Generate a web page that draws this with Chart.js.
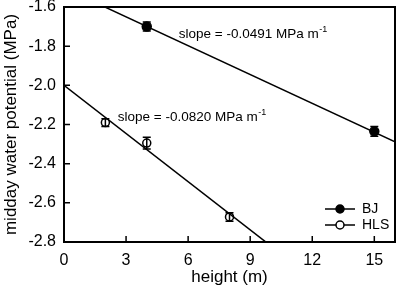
<!DOCTYPE html>
<html>
<head>
<meta charset="utf-8">
<script src="https://cdn.jsdelivr.net/npm/chart.js@4.4.0/dist/chart.umd.min.js"></script>
<style>
  body { margin: 0; background: #fff; }
  #wrap { width: 397px; height: 290px; }
</style>
</head>
<body>
<div id="wrap"><canvas id="chart" width="397" height="290"></canvas></div>
<script>
// heights (m) and midday water potential (MPa)
const bjHeight = [4, 15];
const bjPsi = [-1.70, -2.235];
const bjErr = [0.023, 0.025];
const hlsHeight = [2, 4, 8];
const hlsPsi = [-2.19, -2.295, -2.672];
const hlsErr = [0.02, 0.03, 0.022];

// regression lines
const bjSlope = -0.0491;
const bjIntercept = -1.503;
const hlsSlope = -0.0820;
const hlsIntercept = -2.0;

const xTicks = [0, 3, 6, 9, 12, 15];
const yTicks = [-1.6, -1.8, -2.0, -2.2, -2.4, -2.6, -2.8];
const xMin = 0, xMax = 16, yMin = -2.8, yMax = -1.6;

const FONT = 'Arial, "Liberation Sans", sans-serif';

function fitLine(slope, icpt) {
  return [xMin, xMax].map(x => ({ x, y: icpt + slope * x }));
}

const toPts = (xs, ys) => xs.map((x, i) => ({ x, y: ys[i] }));

// error bars + box + inner ticks + annotations + legend
const decorPlugin = {
  id: 'decor',
  afterDatasetsDraw(chart) {
    const { ctx, scales: { x, y } } = chart;
    ctx.save();
    ctx.strokeStyle = '#000';
    ctx.lineWidth = 1.5;
    const bars = (xs, ys, es) => xs.forEach((v, i) => {
      const px = x.getPixelForValue(v);
      const top = y.getPixelForValue(ys[i] + es[i]);
      const bot = y.getPixelForValue(ys[i] - es[i]);
      ctx.beginPath();
      ctx.moveTo(px, top); ctx.lineTo(px, bot);
      ctx.moveTo(px - 4, top); ctx.lineTo(px + 4, top);
      ctx.moveTo(px - 4, bot); ctx.lineTo(px + 4, bot);
      ctx.stroke();
    });
    bars(bjHeight, bjPsi, bjErr);
    bars(hlsHeight, hlsPsi, hlsErr);
    ctx.restore();
  },
  afterDraw(chart) {
    const { ctx, chartArea: a, scales: { x, y } } = chart;
    ctx.save();
    ctx.strokeStyle = '#000';
    ctx.lineWidth = 2;
    ctx.strokeRect(a.left, a.top, a.right - a.left, a.bottom - a.top);
    ctx.lineWidth = 1.5;
    ctx.beginPath();
    xTicks.forEach(v => {
      if (v === xMin) return;
      const px = x.getPixelForValue(v);
      ctx.moveTo(px, a.bottom); ctx.lineTo(px, a.bottom - 6);
    });
    yTicks.forEach(v => {
      if (v === yMin || v === yMax) return;
      const py = y.getPixelForValue(v);
      ctx.moveTo(a.left, py); ctx.lineTo(a.left + 6, py);
    });
    ctx.stroke();

    // slope annotations
    ctx.fillStyle = '#000';
    ctx.textBaseline = 'middle';
    const note = (txt, dx, dy) => {
      const px = x.getPixelForValue(dx);
      const py = y.getPixelForValue(dy);
      ctx.font = '13.5px ' + FONT;
      ctx.textAlign = 'left';
      ctx.fillText(txt, px, py);
      const w = ctx.measureText(txt).width;
      ctx.font = '9px ' + FONT;
      ctx.fillText('-1', px + w + 0.5, py - 5);
    };
    note('slope = ' + bjSlope.toFixed(4) + ' MPa m', 5.55, -1.74);
    note('slope = ' + hlsSlope.toFixed(4) + ' MPa m', 2.6, -2.165);

    // legend
    const legend = [
      { label: 'BJ', fill: '#000' },
      { label: 'HLS', fill: '#fff' }
    ];
    legend.forEach((item, i) => {
      const ly = 209 + i * 16;
      ctx.lineWidth = 1.5;
      ctx.beginPath();
      ctx.moveTo(325, ly); ctx.lineTo(355, ly);
      ctx.stroke();
      ctx.beginPath();
      ctx.arc(340, ly, 4, 0, Math.PI * 2);
      ctx.fillStyle = item.fill;
      ctx.fill();
      ctx.stroke();
      ctx.fillStyle = '#000';
      ctx.font = '14px ' + FONT;
      ctx.textAlign = 'left';
      ctx.fillText(item.label, 362, ly + 0.5);
    });
    ctx.restore();
  }
};

new Chart(document.getElementById('chart').getContext('2d'), {
  type: 'scatter',
  data: {
    datasets: [
      {
        type: 'line',
        label: 'BJ fit',
        data: fitLine(bjSlope, bjIntercept),
        borderColor: '#000',
        borderWidth: 1.5,
        pointRadius: 0,
        fill: false
      },
      {
        type: 'line',
        label: 'HLS fit',
        data: fitLine(hlsSlope, hlsIntercept),
        borderColor: '#000',
        borderWidth: 1.5,
        pointRadius: 0,
        fill: false
      },
      {
        label: 'BJ',
        data: toPts(bjHeight, bjPsi),
        backgroundColor: '#000',
        borderColor: '#000',
        borderWidth: 1.5,
        pointRadius: 4.5
      },
      {
        label: 'HLS',
        data: toPts(hlsHeight, hlsPsi),
        backgroundColor: '#fff',
        borderColor: '#000',
        borderWidth: 1.5,
        pointRadius: 4
      }
    ]
  },
  options: {
    responsive: false,
    animation: false,
    layout: { autoPadding: false, padding: { top: 7, right: 2, left: 0, bottom: 0 } },
    plugins: { legend: { display: false }, tooltip: { enabled: false } },
    scales: {
      x: {
        type: 'linear',
        min: xMin,
        max: xMax,
        grid: { display: false, drawTicks: false },
        border: { display: false },
        afterBuildTicks: s => { s.ticks = xTicks.map(v => ({ value: v })); },
        afterFit: s => { s.height = 48; s.paddingLeft = 0; s.paddingRight = 0; },
        ticks: {
          color: '#000',
          font: { family: FONT, size: 16 },
          padding: 9,
          maxRotation: 0,
          callback: v => String(v)
        },
        title: {
          display: true,
          text: 'height (m)',
          color: '#000',
          font: { family: FONT, size: 17 },
          padding: { top: 0, bottom: 2 }
        }
      },
      y: {
        type: 'linear',
        min: yMin,
        max: yMax,
        grid: { display: false, drawTicks: false },
        border: { display: false },
        afterBuildTicks: s => { s.ticks = yTicks.map(v => ({ value: v })); },
        afterFit: s => { s.width = 64; s.paddingTop = 0; s.paddingBottom = 0; },
        ticks: {
          color: '#000',
          font: { family: FONT, size: 16 },
          padding: 8,
          callback: v => Number(v).toFixed(1)
        },
        title: {
          display: true,
          text: 'midday water potential (MPa)',
          color: '#000',
          font: { family: FONT, size: 17 },
          padding: { top: 1, bottom: 0 }
        }
      }
    }
  },
  plugins: [decorPlugin]
});
</script>
</body>
</html>
